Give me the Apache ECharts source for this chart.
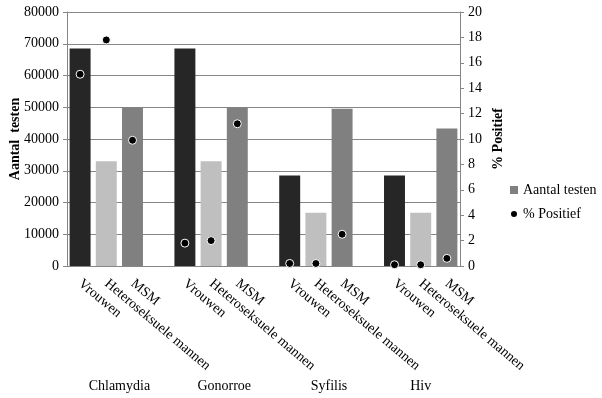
<!DOCTYPE html>
<html>
<head>
<meta charset="utf-8">
<script src="https://cdn.jsdelivr.net/npm/echarts@6/dist/echarts.min.js"></script>
<style>
  html, body { margin: 0; padding: 0; background: #fff; }
  #chart { width: 602px; height: 398px; }
</style>
</head>
<body>
<div id="chart"></div>
<script>
// data
var groups = ['Chlamydia', 'Gonorroe', 'Syfilis', 'Hiv'];
var subgroups = ['Vrouwen', 'Heteroseksuele mannen', 'MSM'];
var aantalChlamydia = [68500, 33000, 50000];
var aantalGonorroe = [68500, 33000, 50000];
var aantalSyfilis = [28500, 16800, 49500];
var aantalHiv = [28500, 16800, 43300];
var posChlamydia = [15.1, 17.8, 9.9];
var posGonorroe = [1.8, 2.0, 11.2];
var posSyfilis = [0.2, 0.2, 2.5];
var posHiv = [0.1, 0.1, 0.6];
var leftTicks = [0, 80000, 10000];
var rightTicks = [0, 20, 2];

var aantal = [aantalChlamydia, aantalGonorroe, aantalSyfilis, aantalHiv];
var positief = [posChlamydia, posGonorroe, posSyfilis, posHiv];
var barColors = ['#262626', '#bfbfbf', '#808080'];
var font = 'Liberation Serif';

// flatten into slots, one empty slot between groups
var cats = [], bars = [], dots = [], groupCenters = [];
groups.forEach(function(g, gi) {
    var start = cats.length;
    subgroups.forEach(function(s, si) {
        cats.push(s);
        bars.push({ value: aantal[gi][si], itemStyle: { color: barColors[si] } });
        dots.push(positief[gi][si]);
    });
    if (gi < groups.length - 1) {
        cats.push('');
        bars.push('-');
        dots.push('-');
    }
    groupCenters.push((start + cats.length) / 2);
});

var myChart = echarts.init(document.getElementById('chart'));
var option = {
    animation: false,
    textStyle: { fontFamily: font },
    grid: { left: 67, right: 142, top: 12, bottom: 132, containLabel: false, outerBoundsMode: 'none' },
    legend: {
        orient: 'vertical',
        left: 504,
        top: 178,
        itemGap: 10,
        itemWidth: 8,
        itemHeight: 8,
        textStyle: { fontFamily: font, fontSize: 14, color: '#000' },
        data: [
            { name: 'Aantal testen', icon: 'rect', itemStyle: { color: '#808080' } },
            { name: '% Positief', icon: 'circle', itemStyle: { color: '#000' } }
        ]
    },
    xAxis: [{
        type: 'category',
        data: cats,
        axisLine: { lineStyle: { color: '#868686' } },
        axisTick: { show: false },
        axisLabel: {
            interval: 0,
            rotate: -40,
            margin: 16,
            fontFamily: font,
            fontSize: 14,
            color: '#000'
        }
    }, {
        type: 'value',
        position: 'bottom',
        min: 0,
        max: cats.length,
        interval: 0.5,
        axisLine: { show: false },
        axisTick: { show: false },
        splitLine: { show: false },
        axisLabel: {
            margin: 113,
            fontFamily: font,
            fontSize: 14,
            color: '#000',
            formatter: function(v) {
                for (var i = 0; i < groupCenters.length; i++) {
                    if (Math.abs(groupCenters[i] - v) < 0.01) return groups[i];
                }
                return '';
            }
        }
    }],
    yAxis: [{
        type: 'value',
        min: leftTicks[0],
        max: leftTicks[1],
        interval: leftTicks[2],
        name: 'Aantal  testen',
        nameLocation: 'middle',
        nameGap: 45,
        nameRotate: 90,
        nameMoveOverlap: false,
        nameTextStyle: { fontFamily: font, fontSize: 14, fontWeight: 'bold', color: '#000' },
        axisLine: { show: true, lineStyle: { color: '#868686' } },
        axisTick: { show: true, length: 4, lineStyle: { color: '#868686' } },
        axisLabel: { fontFamily: font, fontSize: 14, color: '#000', margin: 8, formatter: function(v) { return String(v); } },
        splitLine: { lineStyle: { color: '#868686' } }
    }, {
        type: 'value',
        position: 'right',
        min: rightTicks[0],
        max: rightTicks[1],
        interval: rightTicks[2],
        name: '% Positief',
        nameLocation: 'middle',
        nameGap: 31,
        nameRotate: 90,
        nameMoveOverlap: false,
        nameTextStyle: { fontFamily: font, fontSize: 14, fontWeight: 'bold', color: '#000' },
        axisLine: { show: true, lineStyle: { color: '#868686' } },
        axisTick: { show: true, length: 4, lineStyle: { color: '#868686' } },
        axisLabel: { fontFamily: font, fontSize: 14, color: '#000', margin: 8 },
        splitLine: { show: false }
    }],
    series: [{
        name: 'Aantal testen',
        type: 'bar',
        xAxisIndex: 0,
        yAxisIndex: 0,
        barWidth: '80%',
        itemStyle: { color: '#808080' },
        data: bars
    }, {
        name: '% Positief',
        type: 'scatter',
        xAxisIndex: 0,
        yAxisIndex: 1,
        symbolSize: 8,
        itemStyle: { color: '#000', borderColor: '#fff', borderWidth: 1, opacity: 1 },
        data: dots
    }]
};
myChart.setOption(option);
</script>
</body>
</html>
